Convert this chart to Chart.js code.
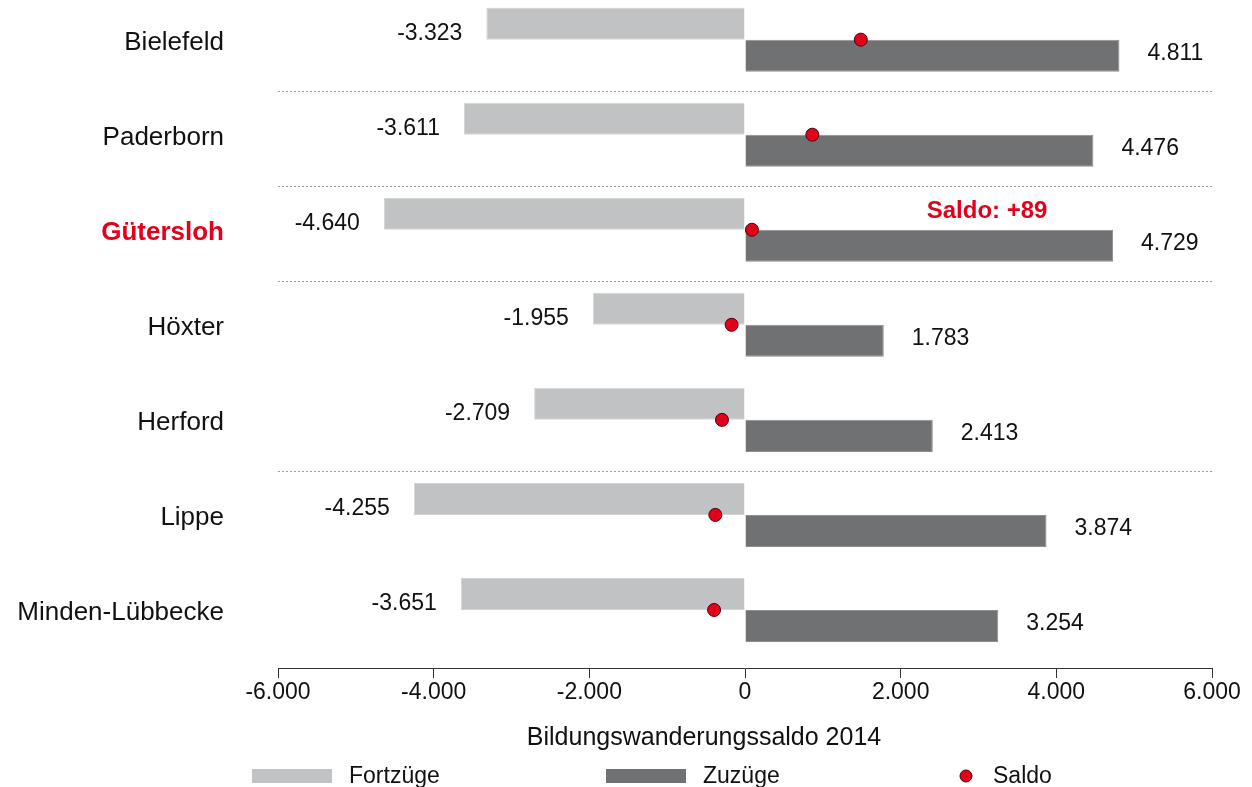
<!DOCTYPE html>
<html>
<head>
<meta charset="utf-8">
<script src="https://cdn.jsdelivr.net/npm/chart.js@4/dist/chart.umd.min.js"></script>
<style>
  html, body { margin: 0; padding: 0; background: #fff; overflow: hidden; }
  #wrap { width: 1252px; height: 787px; position: relative; }
</style>
</head>
<body>
<div id="wrap"><canvas id="chart"></canvas></div>
<script>
// Bildungswanderung 2014 - Kreise in OWL
const regions = ["Bielefeld", "Paderborn", "Gütersloh", "Höxter", "Herford", "Lippe", "Minden-Lübbecke"];
const fortzuege = [-3323, -3611, -4640, -1955, -2709, -4255, -3651];
const zuzuege = [4811, 4476, 4729, 1783, 2413, 3874, 3254];
const saldo = [1488, 865, 89, -172, -296, -381, -397];
const xTicks = [-6000, -4000, -2000, 0, 2000, 4000, 6000];
const axisTitle = "Bildungswanderungssaldo 2014";
const highlight = "Gütersloh";
const separatorsAfter = ["Bielefeld", "Paderborn", "Gütersloh", "Herford"];

const FONT = "Liberation Sans, Arial, sans-serif";
const RED = "#e2001a";
const fmt = (v) => v.toLocaleString("de-DE");

Chart.defaults.font.family = FONT;

// dotted lines between some rows
const separatorPlugin = {
  id: "separators",
  beforeDatasetsDraw(chart) {
    const { ctx, chartArea, scales } = chart;
    ctx.save();
    ctx.strokeStyle = "#9a9a9a";
    ctx.lineWidth = 1;
    ctx.setLineDash([2, 2]);
    separatorsAfter.forEach((name) => {
      const i = regions.indexOf(name);
      const y = Math.round(scales.y.getPixelForValue(i + 0.537)) + 0.5;
      ctx.beginPath();
      ctx.moveTo(chartArea.left, y);
      ctx.lineTo(chartArea.right, y);
      ctx.stroke();
    });
    ctx.restore();
  }
};

// value labels next to the bars, saldo note, axis title
const labelPlugin = {
  id: "barLabels",
  afterDatasetsDraw(chart) {
    const { ctx, chartArea } = chart;
    ctx.save();
    ctx.font = "23px " + FONT;
    ctx.fillStyle = "#111";
    ctx.textBaseline = "middle";

    const fortMeta = chart.getDatasetMeta(1);
    fortMeta.data.forEach((bar, i) => {
      ctx.textAlign = "right";
      ctx.fillText(fmt(fortzuege[i]), bar.x - 24, bar.y + 10);
    });

    const zuMeta = chart.getDatasetMeta(2);
    zuMeta.data.forEach((bar, i) => {
      ctx.textAlign = "left";
      ctx.fillText(fmt(zuzuege[i]), bar.x + 28, bar.y - 2);
    });

    // Saldo note for the highlighted region
    const h = regions.indexOf(highlight);
    const bar = zuMeta.data[h];
    ctx.font = "bold 24px " + FONT;
    ctx.fillStyle = RED;
    ctx.textAlign = "center";
    ctx.fillText("Saldo: " + (saldo[h] > 0 ? "+" : "") + fmt(saldo[h]), bar.x - 126, bar.y - bar.height / 2 - 18);

    // x axis title (sits a bit left of the plot centre)
    ctx.font = "25px " + FONT;
    ctx.fillStyle = "#111";
    ctx.fillText(axisTitle, (chartArea.left + chartArea.right) / 2 - 41, 738);
    ctx.restore();
  }
};

// legend at the bottom
const legendPlugin = {
  id: "bottomLegend",
  afterDraw(chart) {
    const { ctx } = chart;
    const items = [
      { ds: chart.data.datasets[1], x: 252 },
      { ds: chart.data.datasets[2], x: 606 },
      { ds: chart.data.datasets[0], x: 958 }
    ];
    const y = 776;
    ctx.save();
    ctx.font = "23px " + FONT;
    ctx.textBaseline = "middle";
    ctx.textAlign = "left";
    items.forEach((it) => {
      if (it.ds.type === "scatter") {
        ctx.beginPath();
        ctx.arc(it.x + 8, y, 6, 0, Math.PI * 2);
        ctx.fillStyle = it.ds.backgroundColor;
        ctx.fill();
        ctx.lineWidth = 1;
        ctx.strokeStyle = it.ds.borderColor;
        ctx.stroke();
        ctx.fillStyle = "#111";
        ctx.fillText(it.ds.label, it.x + 35, y + 1);
      } else {
        ctx.fillStyle = it.ds.backgroundColor;
        ctx.fillRect(it.x, y - 7, 80, 14);
        ctx.fillStyle = "#111";
        ctx.fillText(it.ds.label, it.x + 97, y + 1);
      }
    });
    ctx.restore();
  }
};

new Chart(document.getElementById("chart"), {
  type: "bar",
  data: {
    datasets: [
      {
        type: "scatter",
        label: "Saldo",
        data: saldo.map((v, i) => ({ x: v, y: i })),
        backgroundColor: RED,
        borderColor: "#4a0008",
        borderWidth: 1,
        pointRadius: 6.5,
        order: 0
      },
      {
        label: "Fortzüge",
        data: fortzuege.map((v, i) => ({ x: v, y: i })),
        backgroundColor: "#c1c2c4",
        borderColor: "#d2d3d4",
        borderWidth: 1,
        order: 1
      },
      {
        label: "Zuzüge",
        data: zuzuege.map((v, i) => ({ x: v, y: i })),
        backgroundColor: "#707173",
        borderColor: "#8e8f91",
        borderWidth: 1,
        order: 1
      }
    ]
  },
  options: {
    indexAxis: "y",
    responsive: true,
    maintainAspectRatio: false,
    animation: false,
    categoryPercentage: 0.674,
    barPercentage: 1,
    layout: { padding: { left: 0, right: 40, top: 0, bottom: 27 } },
    plugins: {
      legend: { display: false },
      tooltip: { enabled: false }
    },
    scales: {
      x: {
        type: "linear",
        bounds: "data",
        min: xTicks[0],
        max: xTicks[xTicks.length - 1],
        afterBuildTicks: (scale) => {
          scale.ticks = xTicks.map((v) => ({ value: v }));
        },
        afterFit: (scale) => {
          scale.height = 92;
          scale.paddingLeft = 0;
          scale.paddingRight = 0;
        },
        grid: { drawOnChartArea: false, drawTicks: true, tickLength: 10, color: "#333" },
        border: { display: true, color: "#333", width: 1 },
        ticks: {
          padding: 1,
          color: "#111",
          font: { size: 23 },
          callback: (v) => fmt(v)
        }
      },
      y: {
        type: "linear",
        bounds: "data",
        offset: false,
        reverse: true,
        min: -0.338,
        max: 6.6105,
        afterBuildTicks: (scale) => {
          scale.ticks = regions.map((r, i) => ({ value: i }));
        },
        afterFit: (scale) => {
          scale.width = 278;
          scale.paddingTop = 0;
          scale.paddingBottom = 0;
        },
        grid: { display: false, drawTicks: false },
        border: { display: false },
        ticks: {
          padding: 54,
          labelOffset: 3,
          callback: (v) => regions[v] ?? "",
          color: (c) => (regions[c.tick.value] === highlight ? RED : "#111"),
          font: (c) => ({
            size: 26,
            weight: regions[c.tick && c.tick.value] === highlight ? "bold" : "normal"
          })
        }
      }
    }
  },
  plugins: [separatorPlugin, labelPlugin, legendPlugin]
});
</script>
</body>
</html>
